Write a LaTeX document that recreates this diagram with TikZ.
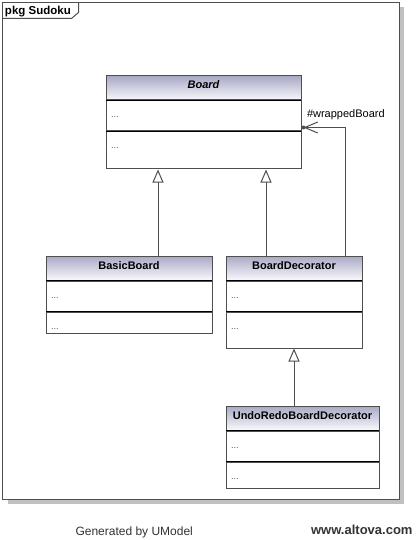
\documentclass[tikz,border=0pt]{standalone}
\usepackage{fontspec}
\setmainfont{Liberation Sans}
\usetikzlibrary{positioning}
\usetikzlibrary{arrows.meta}
\definecolor{hdtop}{HTML}{A9A9C6}
\definecolor{hdbot}{HTML}{F8F8FC}
\definecolor{umlline}{HTML}{4F4F4F}
\definecolor{shadowgray}{HTML}{C0C0C0}
\definecolor{dotgray}{HTML}{505050}
\definecolor{footgray}{HTML}{333333}
\tikzset{classhd/.style = {font=\fontsize{11}{13}\selectfont\bfseries, draw=umlline, top color=hdtop, bottom color=hdbot, inner sep=0pt, text height=13pt, text depth=11pt, align=center}}
\tikzset{compart/.style = {font=\fontsize{9}{11}\selectfont, text=dotgray, draw=umlline, inner xsep=5pt, inner ysep=0pt, text height=17pt, align=left}}
\tikzset{gen/.style = {draw=umlline, -{Triangle[open, length=13pt, width=11pt]}}}
\tikzset{assoc/.style = {draw=umlline, -{Straight Barb[length=13pt, width=11pt]}}}

\begin{document}
\begin{tikzpicture}[x=1pt, y=-1pt, line width=1pt]
\useasboundingbox (0,0) rectangle (416,540);
\fill[white] (0,0) rectangle (416,540);
% package frame
\fill[shadowgray] (7.5,7.5) rectangle (404,504);
\draw[umlline, fill=white] (2.5,2.5) rectangle (399.5,499.5);
\draw[umlline] (2.5,18.5) -- (71.5,18.5) -- (78.5,12.5) -- (78.5,2.5);
\node[font=\fontsize{11.5}{13}\selectfont\bfseries, inner sep=0pt, anchor=base west](pkg) at (4.5,14.5) {pkg Sudoku};
% classes
\node[classhd, text width=195pt, anchor=north west](brdhd) at (105.5,75.5) {\itshape Board};
\node[compart, text width=185pt, text depth=13pt, below = 0pt of brdhd](brdat) {...};
\node[compart, text width=185pt, text depth=20pt, below = 0pt of brdat](brdop) {...};
\node[classhd, text width=166pt, anchor=north west](bbhd) at (45.5,255.5) {BasicBoard};
\node[compart, text width=156pt, text depth=13pt, below = 0pt of bbhd](bbat) {...};
\node[compart, text width=156pt, text depth=4pt, below = 0pt of bbat](bbop) {...};
\node[classhd, text width=136pt, anchor=north west](dechd) at (225.5,255.5) {BoardDecorator};
\node[compart, text width=126pt, text depth=13pt, below = 0pt of dechd](decat) {...};
\node[compart, text width=126pt, text depth=19pt, below = 0pt of decat](decop) {...};
\node[classhd, text width=153pt, anchor=north west](undohd) at (225.5,405.5) {UndoRedoBoardDecorator};
\node[compart, text width=143pt, text depth=13pt, below = 0pt of undohd](undoat) {...};
\node[compart, text width=143pt, text depth=9pt, below = 0pt of undoat](undoop) {...};
\foreach \n in {brdat,brdop,bbat,bbop,decat,decop,undoat,undoop}
  \draw[black] ([xshift=0.5pt]\n.north west) -- ([xshift=-0.5pt]\n.north east);
% generalizations
\coordinate (g1) at ([xshift=-45.5pt]brdop.south);
\coordinate (g2) at ([xshift=62.5pt]brdop.south);
\draw[gen] (bbhd.north -| g1) -- (g1);
\draw[gen] (dechd.north -| g2) -- (g2);
\draw[gen] (undohd.north -| decop.south) -- (decop.south);
% association
\coordinate (wb) at ([xshift=2pt, yshift=4pt]brdat.south east);
\coordinate (wbend) at ([xshift=-17pt]dechd.north east);
\draw[assoc] (wbend) |- (wb);
\fill[umlline] (wb) circle (2pt);
\node[font=\fontsize{11}{13}\selectfont, inner sep=0pt, anchor=base west](wblbl) at ([xshift=3pt, yshift=9.5pt]wb) {\#wrappedBoard};
% footer
\node[font=\fontsize{12}{14}\selectfont, text=footgray, inner sep=0pt, anchor=base west](umodel) at (75,535) {Generated by UModel};
\node[font=\fontsize{13}{15}\selectfont\bfseries, text=footgray, inner sep=0pt, anchor=base east](altova) at (413,534.5) {www.altova.com};
\end{tikzpicture}
\end{document}
